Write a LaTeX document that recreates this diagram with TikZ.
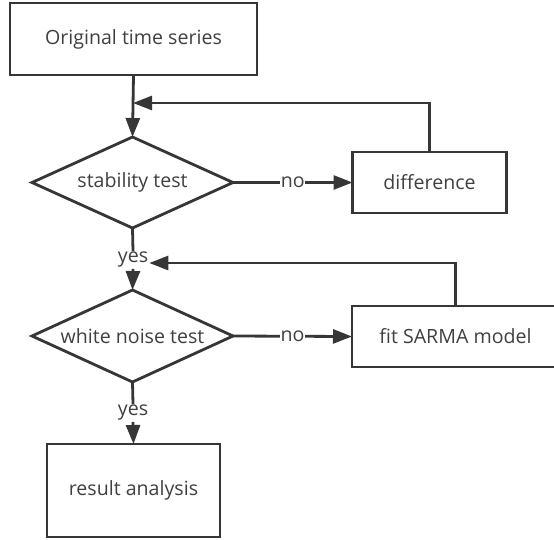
\documentclass[tikz,border=0pt]{standalone}
\usepackage{fontspec}
\setmainfont{Open Sans}
\usetikzlibrary{shapes.geometric,arrows.meta}
\definecolor{ln}{HTML}{363636}
\definecolor{tx}{HTML}{404040}
\begin{document}
\begin{tikzpicture}[x=1pt,y=-1pt,
  every node/.style={font=\fontsize{19.6}{22}\selectfont, text=tx},
  box/.style={draw=ln, line width=2.8pt, rectangle, inner sep=0pt, outer sep=0pt},
  dia/.style={draw=ln, line width=2.8pt, diamond, shape aspect=2, inner sep=0pt, outer sep=0pt, minimum width=201pt, minimum height=91pt},
  conn/.style={draw=ln, line width=2.8pt},
  arr/.style={conn, -{Triangle[length=19pt,width=14pt]}},
  lbl/.style={fill=white, inner sep=0.5pt}]
\clip (0,0) rectangle (554,539);
\fill[white] (0,0) rectangle (554,539);
\node[box, minimum width=247pt, minimum height=72pt] (orig) at (133.5,39) {Original time series};
\coordinate (j1) at (133,103);
\node[dia] (stab) at (132.5,182.5) {\makebox[0pt]{stability test}};
\node[box, minimum width=154pt, minimum height=61pt] (diff) at (429.5,182.5) {difference};
\node[inner sep=1pt] (yes1) at (133,260) {yes};
\node[dia, minimum height=92pt] (wn) at (132.5,336) {\makebox[0pt]{white noise test}};
\node[box, minimum width=207pt, minimum height=61pt] (fit) at (455.5,336.5) {fit SARMA model};
\node[inner sep=1pt] (yes2) at (133,413) {yes};
\node[box, minimum width=173pt, minimum height=93pt] (res) at (133.5,490.5) {result analysis};
\coordinate (fb2) at (455.5,263);
% connectors
\draw[arr] (orig.south) -- (stab.north);
\draw[arr] (diff.north) |- (j1);
\draw[arr] (stab.east) -- node[lbl] {no} (diff.west);
\draw[conn] (stab.south) -- (yes1.north);
\draw[arr] (yes1.south) -- (wn.north);
\draw[arr] (fit.north) -- (fb2) -- (fb2 -| yes1.east);
\draw[arr] (wn.east) -- node[lbl] {no} (fit.west);
\draw[conn] (wn.south) -- (yes2.north);
\draw[arr] (yes2.south) -- (res.north);
\end{tikzpicture}
\end{document}
